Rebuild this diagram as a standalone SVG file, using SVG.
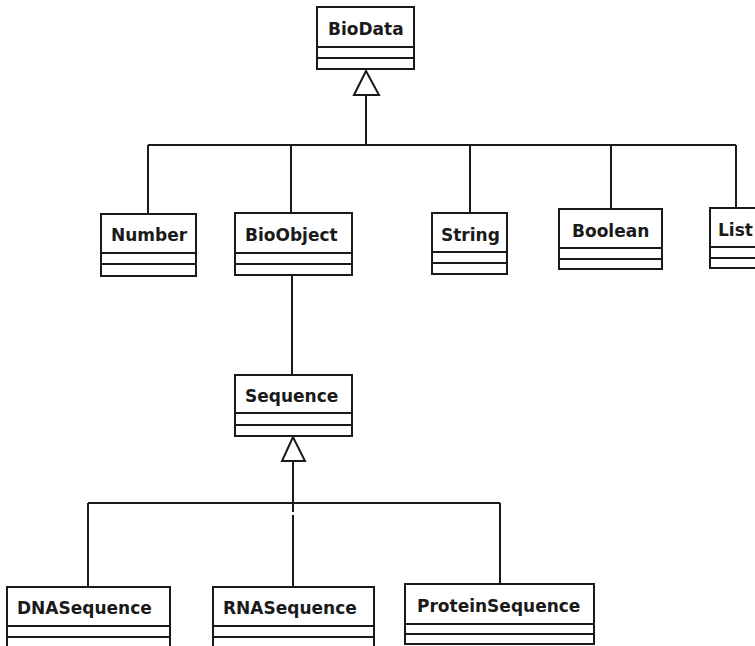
<svg xmlns="http://www.w3.org/2000/svg" width="755" height="646" viewBox="0 0 755 646">
  <style>
    .box { fill: #ffffff; stroke: #1a1a1a; stroke-width: 2; }
    .sep { stroke: #1a1a1a; stroke-width: 2; fill: none; }
    .name { font-family: "DejaVu Sans", "Liberation Sans", sans-serif; font-weight: bold; font-size: 17px; fill: #1a1a1a; }
    .wire { stroke: #1a1a1a; stroke-width: 2; fill: none; }
    .head { fill: #ffffff; stroke: #1a1a1a; stroke-width: 2; stroke-linejoin: miter; }
  </style>
  <rect width="755" height="646" fill="#ffffff"/>

  <g id="connectors">
    <!-- BioData generalization tree -->
    <line class="wire" x1="366" y1="95" x2="366" y2="145"/>
    <line class="wire" x1="148" y1="145" x2="736" y2="145"/>
    <line class="wire" x1="148" y1="145" x2="148" y2="214"/>
    <line class="wire" x1="291" y1="145" x2="291" y2="213"/>
    <line class="wire" x1="470" y1="145" x2="470" y2="213"/>
    <line class="wire" x1="611" y1="145" x2="611" y2="210"/>
    <line class="wire" x1="736" y1="145" x2="736" y2="208"/>
    <polygon class="head" points="366,71 354,95 379,95"/>
    <!-- BioObject to Sequence -->
    <line class="wire" x1="292" y1="275" x2="292" y2="375"/>
    <!-- Sequence generalization tree -->
    <line class="wire" x1="293" y1="461" x2="293" y2="512"/>
    <line class="wire" x1="88" y1="503" x2="500" y2="503"/>
    <line class="wire" x1="88" y1="503" x2="88" y2="587"/>
    <line class="wire" x1="293" y1="515" x2="293" y2="587"/>
    <line class="wire" x1="500" y1="503" x2="500" y2="584"/>
    <polygon class="head" points="293,437 282,461 305,461"/>
  </g>

  <g id="BioData">
    <rect class="box" x="317" y="7" width="97" height="62"/>
    <line class="sep" x1="317" y1="47" x2="414" y2="47"/>
    <line class="sep" x1="317" y1="58" x2="414" y2="58"/>
    <text class="name" x="328" y="35">BioData</text>
  </g>

  <g id="Number">
    <rect class="box" x="101" y="214" width="95" height="62"/>
    <line class="sep" x1="101" y1="253" x2="196" y2="253"/>
    <line class="sep" x1="101" y1="264" x2="196" y2="264"/>
    <text class="name" x="111" y="241">Number</text>
  </g>

  <g id="BioObject">
    <rect class="box" x="235" y="213" width="117" height="62"/>
    <line class="sep" x1="235" y1="253" x2="352" y2="253"/>
    <line class="sep" x1="235" y1="264" x2="352" y2="264"/>
    <text class="name" x="245" y="241">BioObject</text>
  </g>

  <g id="String">
    <rect class="box" x="432" y="213" width="75" height="61"/>
    <line class="sep" x1="432" y1="252" x2="507" y2="252"/>
    <line class="sep" x1="432" y1="263" x2="507" y2="263"/>
    <text class="name" x="441" y="241">String</text>
  </g>

  <g id="Boolean">
    <rect class="box" x="559" y="209" width="103" height="60"/>
    <line class="sep" x1="559" y1="248" x2="662" y2="248"/>
    <line class="sep" x1="559" y1="259" x2="662" y2="259"/>
    <text class="name" x="572" y="237">Boolean</text>
  </g>

  <g id="List">
    <rect class="box" x="710" y="208" width="60" height="60"/>
    <line class="sep" x1="710" y1="247" x2="770" y2="247"/>
    <line class="sep" x1="710" y1="258" x2="770" y2="258"/>
    <text class="name" x="718" y="236">List</text>
  </g>

  <g id="Sequence">
    <rect class="box" x="235" y="375" width="117" height="61"/>
    <line class="sep" x1="235" y1="413" x2="352" y2="413"/>
    <line class="sep" x1="235" y1="425" x2="352" y2="425"/>
    <text class="name" x="245" y="402">Sequence</text>
  </g>

  <g id="DNASequence">
    <rect class="box" x="7" y="587" width="163" height="70"/>
    <line class="sep" x1="7" y1="626" x2="170" y2="626"/>
    <line class="sep" x1="7" y1="637" x2="170" y2="637"/>
    <text class="name" x="17" y="614">DNASequence</text>
  </g>

  <g id="RNASequence">
    <rect class="box" x="213" y="587" width="161" height="70"/>
    <line class="sep" x1="213" y1="626" x2="374" y2="626"/>
    <line class="sep" x1="213" y1="637" x2="374" y2="637"/>
    <text class="name" x="223" y="614">RNASequence</text>
  </g>

  <g id="ProteinSequence">
    <rect class="box" x="405" y="584" width="189" height="60"/>
    <line class="sep" x1="405" y1="624" x2="594" y2="624"/>
    <line class="sep" x1="405" y1="634" x2="594" y2="634"/>
    <text class="name" x="417" y="612">ProteinSequence</text>
  </g>
</svg>
